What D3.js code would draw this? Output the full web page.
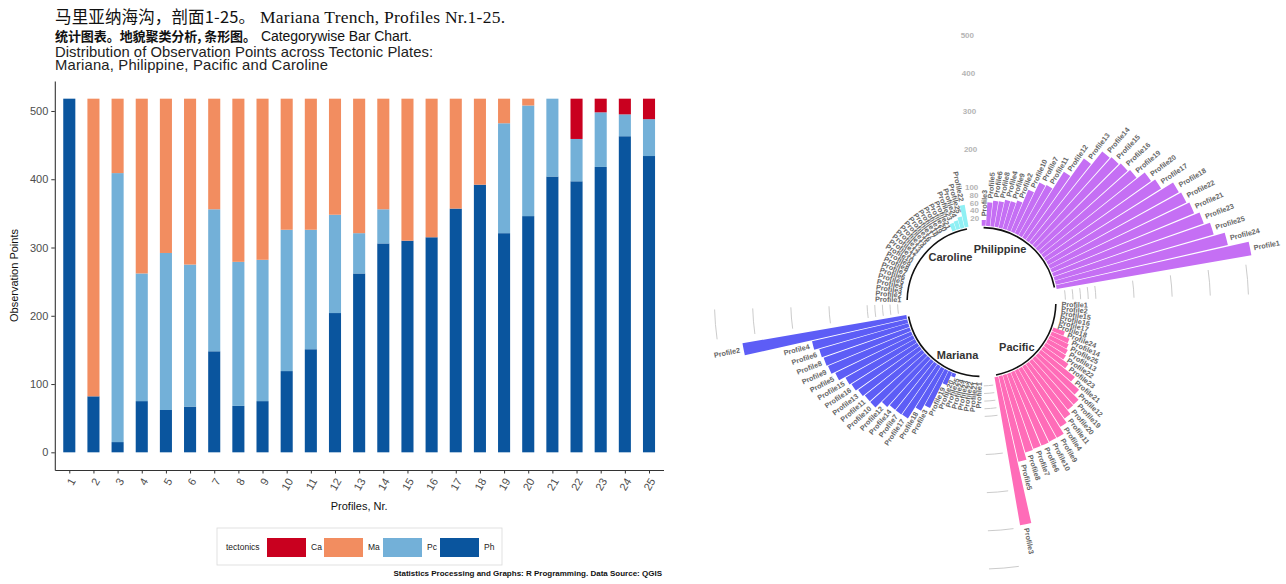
<!DOCTYPE html>
<html><head><meta charset="utf-8">
<script src="https://cdn.jsdelivr.net/npm/d3@7"></script>
<style>
body{margin:0;background:#fff;}
svg{display:block;}
text{font-family:"Liberation Sans",Arial,"Noto Sans CJK SC",sans-serif;}
</style>
</head><body>
<svg id="c" width="1286" height="584"></svg>
<script>
// ---------------- DATA ----------------
const profiles = ["1","2","3","4","5","6","7","8","9","10","11","12","13","14","15","16","17","18","19","20","21","22","23","24","25"];
const tectonics = ["Ca","Ma","Pc","Ph"];
// observation points per profile and plate
const ph = [518, 82, 15, 75, 62, 67,148, 68, 75,119,151,204,262,306,310,315,357,392,321,346,404,397,418,463,434];
const pc = [  0,  0,394,187,230,208,208,211,207,207,175,144, 59, 50,  0,  0,  0,  0,161,162,114, 62, 80, 32, 54];
const ma = [  0,436,109,256,226,243,162,239,236,192,192,170,197,162,208,203,161,126, 36, 10,  0,  0,  0,  0,  0];
const ca = [  0,  0,  0,  0,  0,  0,  0,  0,  0,  0,  0,  0,  0,  0,  0,  0,  0,  0,  0,  0,  0, 59, 20, 23, 30];
const yTicks = [0,100,200,300,400,500];
const plateNames = ["Philippine","Pacific","Mariana","Caroline"];
const radialTicks = [20,40,60,80,100,200,300,400,500];

const titleCn = "马里亚纳海沟，剖面1-25。";
const titleEn = "Mariana Trench, Profiles Nr.1-25.";
const subCn = "统计图表。地貌聚类分析, 条形图。";
const subEn = "Categorywise Bar Chart.";
const titleLine3 = "Distribution of Observation Points across Tectonic Plates:";
const titleLine4 = "Mariana, Philippine, Pacific and Caroline";

// ---------------- STYLE ----------------
const fillCols = {Ca:"#C9001F", Ma:"#F28D60", Pc:"#73B0D8", Ph:"#0A559E"};
const plateCols = {Philippine:"#C56FF4", Pacific:"#FF6CB8", Mariana:"#5D5DF6", Caroline:"#8FF0F4"};

const svg = d3.select("#c");

// ---------------- TITLES ----------------
svg.append("text").attr("x",55).attr("y",23)
  .style("font-family",'"Noto Sans CJK SC",sans-serif').style("font-size","16.5px").attr("fill","#111")
  .attr("textLength",200).attr("lengthAdjust","spacing").text(titleCn);
svg.append("text").attr("x",260).attr("y",23)
  .style("font-family",'"Liberation Serif",serif').style("font-size","17.5px").attr("fill","#111")
  .attr("textLength",245).attr("lengthAdjust","spacing").text(titleEn);
svg.append("text").attr("x",55).attr("y",41)
  .style("font-family",'"Noto Sans CJK SC",sans-serif').style("font-weight","bold").style("font-size","13px").attr("fill","#111")
  .attr("textLength",201).attr("lengthAdjust","spacing").text(subCn);
svg.append("text").attr("x",261).attr("y",41).style("font-size","14px").attr("fill","#111")
  .attr("textLength",151).attr("lengthAdjust","spacing").text(subEn);
svg.append("text").attr("x",55).attr("y",56.5).style("font-size","14.8px").attr("fill","#222")
  .attr("textLength",378).attr("lengthAdjust","spacing").text(titleLine3);
svg.append("text").attr("x",55).attr("y",70).style("font-size","14.8px").attr("fill","#222")
  .attr("textLength",273).attr("lengthAdjust","spacing").text(titleLine4);

// ---------------- STACKED BAR CHART ----------------
const P = {left:54.8, right:663.5, top:81, bottom:470};
const x = d3.scalePoint().domain(profiles).range([P.left, P.right]).padding(0.6);
const y = d3.scaleLinear().domain([-25.9, 543.9]).range([P.bottom, P.top]);
const rows = profiles.map((p,i)=>({profile:p, Ph:ph[i], Pc:pc[i], Ma:ma[i], Ca:ca[i]}));
const series = d3.stack().keys(["Ph","Pc","Ma","Ca"])(rows);
const bw = x.step()*0.5;
svg.append("g").selectAll("g").data(series).join("g").attr("fill", d=>fillCols[d.key])
  .selectAll("rect").data(d=>d).join("rect")
  .attr("x", d=>x(d.data.profile)-bw/2).attr("width", bw)
  .attr("y", d=>y(d[1])).attr("height", d=>Math.max(0, y(d[0])-y(d[1])));

const gy = svg.append("g").attr("transform",`translate(${P.left},0)`)
  .call(d3.axisLeft(y).tickValues(yTicks).tickSize(3.5).tickSizeOuter(0).tickPadding(3));
gy.selectAll("text").style("font-size","11px").attr("fill","#4d4d4d");
gy.selectAll("line").attr("stroke","#333");
gy.select(".domain").attr("stroke","#333").attr("stroke-width",1.1);

const gx = svg.append("g").attr("transform",`translate(0,${P.bottom})`)
  .call(d3.axisBottom(x).tickSize(3.5).tickSizeOuter(0));
gx.selectAll("line").attr("stroke","#333");
gx.select(".domain").attr("stroke","#333").attr("stroke-width",1.1);
gx.selectAll("text").style("font-size","11px").attr("fill","#4d4d4d")
  .attr("text-anchor","end").attr("dy","0.35em")
  .attr("transform","translate(3,9) rotate(-60)").attr("y",0).attr("x",0);

svg.append("text").attr("transform",`translate(14,${(P.top+P.bottom)/2}) rotate(-90)`)
  .attr("text-anchor","middle").attr("dy","0.35em").style("font-size","11px").attr("fill","#111")
  .text("Observation Points");
svg.append("text").attr("x",(P.left+P.right)/2).attr("y",510).attr("text-anchor","middle")
  .style("font-size","11px").attr("fill","#111").text("Profiles, Nr.");

// legend
const lg = svg.append("g");
lg.append("rect").attr("x",217).attr("y",528).attr("width",285).attr("height",37)
  .attr("fill","#fff").attr("stroke","#d9d9d9").attr("stroke-width",0.8);
lg.append("text").attr("x",226).attr("y",547).attr("dy","0.35em").style("font-size","8.5px").attr("fill","#222").text("tectonics");
const keyX = [267, 324, 383, 440];
tectonics.forEach((t,i)=>{
  lg.append("rect").attr("x",keyX[i]).attr("y",538).attr("width",39).attr("height",19).attr("fill",fillCols[t]);
  lg.append("text").attr("x",keyX[i]+44).attr("y",547).attr("dy","0.35em").style("font-size","8.5px").attr("fill","#222").text(t);
});
svg.append("text").attr("x",662).attr("y",576).attr("text-anchor","end")
  .style("font-size","8px").style("font-weight","bold").attr("fill","#111")
  .text("Statistics Processing and Graphs: R Programming. Data Source: QGIS");

// ---------------- CIRCULAR BAR CHART ----------------
const cx = 981.5, cy = 302;
const per = 28, N = per*plateNames.length, w = 2*Math.PI/N;
const r = d3.scaleLinear().domain([-200,500]).range([0,267]);
const plateValues = {Philippine:ph, Pacific:pc, Mariana:ma, Caroline:ca};
const bars = [];
plateNames.forEach((g,gi)=>{
  const vals = plateValues[g].map((v,i)=>({label:"Profile"+profiles[i], value:v, idx:i}));
  vals.sort((a,b)=>a.value-b.value || a.idx-b.idx);
  vals.forEach((d,k)=>bars.push(Object.assign({}, d, {group:g, id:gi*per+k+1})));
});
const cg = svg.append("g").attr("transform",`translate(${cx},${cy})`);
const arcGen = d3.arc();
cg.selectAll("path.bar").data(bars).join("path").attr("class","bar")
  .attr("fill", d=>plateCols[d.group])
  .attr("d", d=>arcGen({innerRadius:r(0), outerRadius:r(d.value), startAngle:(d.id-0.95)*w, endAngle:(d.id-0.05)*w}));

function arcPath(rr, a0, a1){ const p = d3.path(); p.arc(0,0,rr,a0-Math.PI/2,a1-Math.PI/2); return p.toString(); }

// grid arcs in gaps (not before first group)
plateNames.forEach((g,gi)=>{
  if(gi===0) return;
  const a0 = ((gi-1)*per+26-0.5)*w, a1 = (gi*per-0.5)*w;
  radialTicks.forEach(t=>{
    cg.append("path").attr("d",arcPath(r(t),a0,a1)).attr("fill","none").attr("stroke","#bebebe").attr("stroke-width",0.8);
  });
});
// scale labels
const aLab = (N-0.5)*w;
cg.selectAll("text.scl").data(radialTicks).join("text").attr("class","scl")
  .attr("x", t=>r(t)*Math.sin(aLab)).attr("y", t=>-r(t)*Math.cos(aLab))
  .attr("text-anchor","end").attr("dy","0.35em").style("font-size","8px").style("font-weight","bold")
  .attr("fill","#b5b5b5").text(t=>t);

// base arcs and group titles
plateNames.forEach((g,gi)=>{
  const s = gi*per+1, e = gi*per+25;
  cg.append("path").attr("d",arcPath(r(-5),(s-0.5)*w,(e-0.5)*w)).attr("fill","none").attr("stroke","#111").attr("stroke-width",1.6);
  const at = ((s+e)/2-0.5)*w;
  cg.append("text").attr("x",r(-18)*Math.sin(at)).attr("y",-r(-18)*Math.cos(at))
    .attr("text-anchor", gi<2 ? "end" : "start").attr("dy","0.35em")
    .style("font-size","11px").style("font-weight","bold").attr("fill","#333").text(g);
});

// profile labels
cg.selectAll("text.lab").data(bars).join("text").attr("class","lab")
  .attr("transform", d=>{
    const a = (d.id-0.5)*w, deg = a*180/Math.PI, rr = r(d.value+10);
    const px = rr*Math.sin(a), py = -rr*Math.cos(a);
    const rot = deg<=180 ? deg-90 : deg-270;
    return `translate(${px},${py}) rotate(${rot})`;
  })
  .attr("text-anchor", d=>((d.id-0.5)*360/N)<=180 ? "start" : "end")
  .attr("dy","0.35em").style("font-size","7.2px").style("font-weight","bold")
  .attr("fill","#666").text(d=>d.label);
</script>
</body></html>
